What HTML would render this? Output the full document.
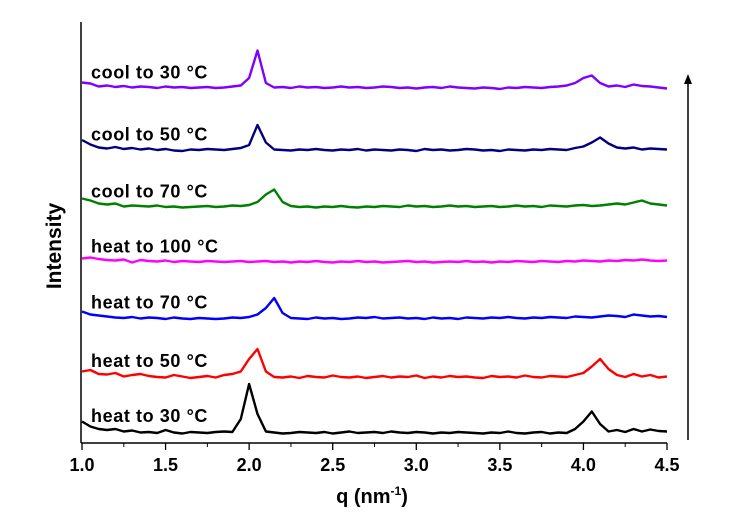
<!DOCTYPE html>
<html><head><meta charset="utf-8"><style>
body{margin:0;background:#fff;}
svg{display:block;font-family:"Liberation Sans",Arial,sans-serif;}
</style></head><body>
<svg id="chart" width="736" height="518" viewBox="0 0 736 518">
<g id="axes"></g>
<g id="series"></g>
<g id="labels"></g>
<text x="0" y="0" transform="translate(61,246) rotate(-90)" text-anchor="middle" font-size="21" font-weight="bold">Intensity</text>
<text x="372" y="503" text-anchor="middle" font-size="20" font-weight="bold">q (nm<tspan dy="-8" font-size="12">-1</tspan><tspan dy="8">)</tspan></text>
<line x1="688" y1="440" x2="688" y2="82" stroke="#000" stroke-width="1.5"/>
<polygon points="684,84 692,84 688,74" fill="#000"/>
</svg>
<script>
const qStart = 1.0, qStep = 0.05;
const seriesNames = ["heat to 30 °C","heat to 50 °C","heat to 70 °C","heat to 100 °C","cool to 70 °C","cool to 50 °C","cool to 30 °C"];
const seriesColors = ["#000000","#ff0000","#0000ff","#ff00ff","#008000","#000080","#8000ff"];
const baselines = [0, 11, 22.7, 33.9, 44.9, 56.3, 68.7];
const xTicks = [1.0,1.5,2.0,2.5,3.0,3.5,4.0,4.5];
const s0 = [2.5,1.5,1,0.8,1,0.5,0.7,0.3,0.4,0.2,0.8,0.3,0.1,0.4,0.3,0.2,0.4,0.5,0.4,3,10,4,0.5,0.3,0.1,0.2,0.4,0.3,0.2,0.4,0.1,0.3,0.5,0.2,0.3,0.4,0.2,0.5,0.3,0.2,0.4,0.3,0.1,0.3,0.2,0.4,0.3,0.2,0.1,0.3,0.2,0.5,0.2,0.1,0.3,0.4,0.1,0.3,0.2,1,2.5,4.5,2,0.5,0.8,0.4,1,0.5,0.9,0.6,0.5];
const s1 = [1.5,1.8,1,0.9,1.2,0.5,0.8,1,0.6,0.4,0.3,0.8,0.5,0.2,0.4,0.6,0.3,0.8,1,1.5,4,6,1.5,0.4,0.3,0.5,0.2,0.6,0.4,0.3,0.7,0.4,0.3,0.5,0.2,0.4,0.6,0.3,0.5,0.4,0.7,0.2,0.5,0.3,0.6,0.4,0.5,0.3,0.2,0.6,0.4,0.5,0.3,0.7,0.4,0.3,0.6,0.5,0.4,0.8,1.2,2.5,4,2,0.8,0.4,1,0.5,0.8,0.3,0.5];
const s2 = [1.8,1.2,1,0.8,0.6,0.5,0.7,0.4,0.6,0.5,0.3,0.6,0.4,0.3,0.5,0.4,0.3,0.4,0.6,0.5,0.7,1.2,2.5,4.5,1.5,0.5,0.4,0.3,0.6,0.4,0.5,0.3,0.4,0.6,0.5,0.7,0.4,0.5,0.6,0.4,0.5,0.3,0.6,0.4,0.5,0.3,0.6,0.5,0.4,0.6,0.5,0.7,0.5,0.4,0.6,0.5,0.7,0.6,0.5,0.8,0.7,0.6,0.8,1,0.9,0.7,1.2,1,0.8,0.9,0.7];
const s3 = [1.2,1.4,1.1,0.9,0.8,1,0.4,0.9,0.7,0.6,0.8,0.5,0.7,0.6,0.5,0.7,0.6,0.5,0.6,0.7,0.5,0.6,0.7,0.5,0.6,0.4,0.6,0.5,0.7,0.5,0.4,0.6,0.5,0.7,0.5,0.6,0.4,0.5,0.6,0.7,0.5,0.6,0.4,0.5,0.6,0.5,0.7,0.5,0.6,0.4,0.6,0.5,0.7,0.6,0.5,0.7,0.6,0.5,0.7,0.6,0.8,0.7,0.6,0.8,0.7,0.9,0.8,1,0.8,0.7,0.8];
const s4 = [2.2,1.8,1.2,1,1.2,0.6,0.8,0.7,0.6,0.8,0.5,0.6,0.4,0.5,0.6,0.7,0.5,0.6,0.8,0.7,0.9,1.5,3,4,1.5,0.7,0.5,0.6,0.4,0.6,0.5,0.7,0.5,0.4,0.6,0.5,0.7,0.6,0.5,0.8,0.6,0.7,0.5,0.6,0.8,0.6,0.7,0.5,0.6,0.7,0.5,0.6,0.8,0.6,0.7,0.5,0.8,0.7,0.6,0.8,0.9,0.7,0.8,1,1.2,1,1.4,1.8,1.2,1,0.8];
const s5 = [2.5,1.6,1,0.8,1.1,0.7,0.9,0.6,0.8,0.5,0.7,0.4,0.3,0.6,0.5,0.7,0.6,0.5,0.7,0.9,1.5,5.5,2,0.6,0.5,0.4,0.6,0.5,0.7,0.5,0.4,0.6,0.5,0.7,0.4,0.6,0.5,0.4,0.6,0.5,0.3,0.7,0.5,0.6,0.4,0.5,0.7,0.6,0.4,0.5,0.3,0.6,0.5,0.4,0.6,0.5,0.7,0.6,0.5,0.9,1.2,2,3,1.8,1,0.8,1,0.6,0.8,0.7,0.6];
const s6 = [1.6,1.4,0.8,1,0.7,0.9,0.6,0.8,0.7,0.5,0.8,0.6,0.7,0.5,0.6,0.7,0.5,0.6,0.8,1,2.5,8,1.5,0.6,0.7,0.5,0.8,0.6,0.7,0.5,0.6,0.8,0.6,0.7,0.5,0.6,0.8,0.7,0.5,0.6,0.4,0.6,0.7,0.5,0.8,0.6,0.5,0.4,0.6,0.5,0.3,0.6,0.5,0.7,0.6,0.5,0.7,0.8,1,1.5,2.5,3,1.5,0.8,1,0.7,1.2,0.9,0.8,0.6,0.4];
const seriesData = [s0,s1,s2,s3,s4,s5,s6];
const NS="http://www.w3.org/2000/svg";
const xL=82, xR=667, yBase=434, unit=5;
function xs(q){return xL+(q-1)*(xR-xL)/3.5;}
function ys(v){return yBase-v*unit;}
const axes=document.getElementById('axes');
function mk(tag,attrs,parent){const e=document.createElementNS(NS,tag);for(const k in attrs)e.setAttribute(k,attrs[k]);parent.appendChild(e);return e;}
let e=mk('line',{x1:xL-1,y1:22,x2:xL-1,y2:443,stroke:'#000','stroke-width':1.5},axes);


e=mk('line',{x1:xL-1,y1:443,x2:xR,y2:443,stroke:'#000','stroke-width':1.5},axes);


for(let i=0;i<xTicks.length;i++){
 const x=xs(xTicks[i]);
 e=mk('line',{x1:x,y1:443,x2:x,y2:450,stroke:'#000','stroke-width':1.3},axes);
 
 
 if(i<xTicks.length-1){const xm=xs(xTicks[i]+0.25);
  e=mk('line',{x1:xm,y1:443,x2:xm,y2:447,stroke:'#000','stroke-width':1},axes);
  
  }
 e=mk('text',{x:x,y:471,'text-anchor':'middle','font-size':18,'font-weight':'bold'},axes);
 e.textContent=xTicks[i].toFixed(1);
 
 
}
const sg=document.getElementById('series'), lg=document.getElementById('labels');
for(let s=0;s<seriesData.length;s++){
 const d=seriesData[s].map((v,i)=>(i?'L':'M')+xs(qStart+i*qStep).toFixed(1)+','+ys(v+baselines[s]).toFixed(1)).join(' ');
 e=mk('path',{d:d,fill:'none',stroke:seriesColors[s],'stroke-width':2.4,'stroke-linejoin':'round'},sg);
 
 
 e=mk('text',{x:91,y:ys(baselines[s])-12,'font-size':18,'font-weight':'bold','letter-spacing':0.6},lg);
 e.textContent=seriesNames[s];
 
 
}
</script>
</body></html>
